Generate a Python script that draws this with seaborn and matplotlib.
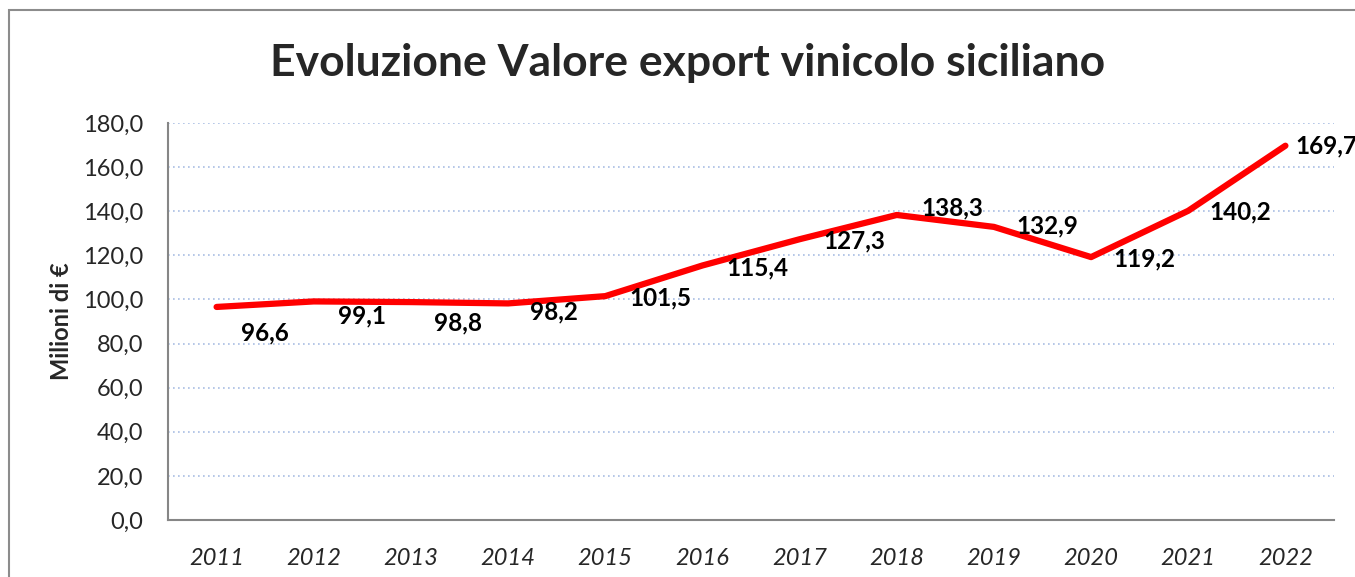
import matplotlib
matplotlib.use("Agg")
import matplotlib.pyplot as plt
import seaborn as sns
import pandas as pd
from matplotlib.patches import Rectangle
from matplotlib.ticker import FuncFormatter

years = ["2011", "2012", "2013", "2014", "2015", "2016",
         "2017", "2018", "2019", "2020", "2021", "2022"]
values = [96.6, 99.1, 98.8, 98.2, 101.5, 115.4,
          127.3, 138.3, 132.9, 119.2, 140.2, 169.7]
# label offsets in pixels (dx, dy) relative to each point
label_dx = [48, 48, 47, 46, 55, 55, 55, 56, 53, 53, 52, 10]
label_dy = [-26, -14, -21, -9, -2, -2, -2, 7, 1, -2, -1, 0]

df = pd.DataFrame({"anno": years, "valore": values})

sns.set_style("white")
plt.rcParams['font.family'] = ['Lato', 'DejaVu Sans']

fig = plt.figure(figsize=(13.55, 5.77), dpi=100)
ax = fig.add_axes([168 / 1355, 1 - 520 / 577, (1334 - 168) / 1355, (520 - 123) / 577])

sns.lineplot(data=df, x="anno", y="valore", color="#ff0000", linewidth=4.5,
             ax=ax, sort=False)

for i, v in enumerate(values):
    ha = "left" if i == len(values) - 1 else "center"
    ax.annotate(f"{v:.1f}".replace(".", ","), (i, v),
                xytext=(label_dx[i], label_dy[i]), textcoords="offset pixels",
                ha=ha, va="center", fontsize=17.5, fontweight="bold", color="black")

ax.set_xlim(-0.5, len(years) - 0.5)
ax.set_ylim(0, 180)
ax.set_yticks(range(0, 181, 20))
ax.yaxis.set_major_formatter(FuncFormatter(lambda y, _: f"{y:.1f}".replace(".", ",")))
ax.grid(axis="y", linestyle=(0, (1, 2)), color="#a9bde3", linewidth=1.2)
ax.set_axisbelow(True)

for s in ["top", "right"]:
    ax.spines[s].set_visible(False)
for s in ["left", "bottom"]:
    ax.spines[s].set_color("#868686")
    ax.spines[s].set_linewidth(1.5)

ax.tick_params(axis="y", length=0, labelsize=17, pad=18)
ax.tick_params(axis="x", length=0, labelsize=17, pad=20)
for lbl in ax.get_xticklabels():
    lbl.set_fontstyle("italic")

ax.set_xlabel("")
ax.set_ylabel("Milioni di €", fontsize=17, fontweight="bold", labelpad=7)

fig.text(688 / 1355, 1 - 63 / 577, "Evoluzione Valore export vinicolo siciliano",
         ha="center", va="center", fontsize=32, fontweight="bold")

fig.patches.append(Rectangle((9 / 1355, -0.1), 1.2, 1.1 - 10 / 577,
                             transform=fig.transFigure, fill=False,
                             edgecolor="#8c8c8c", linewidth=1.5))

fig.savefig("out.png", dpi=100)
